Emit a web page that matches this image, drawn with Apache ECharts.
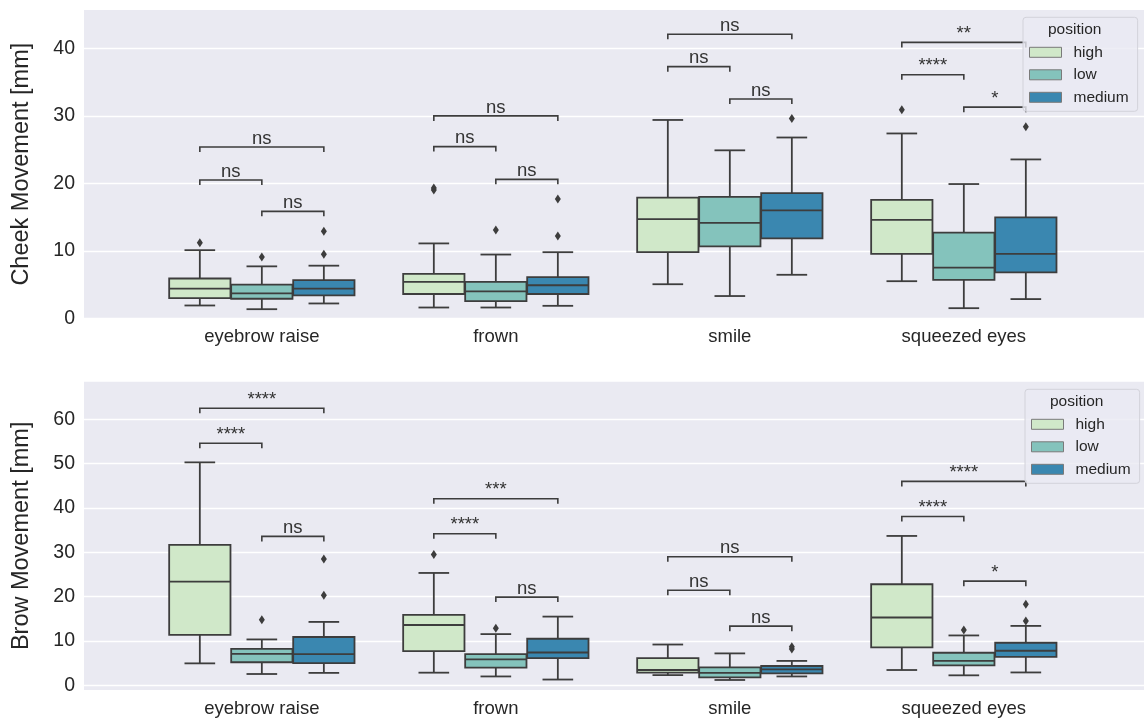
<!DOCTYPE html>
<html>
<head>
<meta charset="utf-8">
<script src="https://cdn.jsdelivr.net/npm/echarts@6/dist/echarts.min.js"></script>
<style>
html,body{margin:0;padding:0;background:#fff;}
#chart{width:1148px;height:718px;}
</style>
</head>
<body>
<div id="chart"></div>
<script>
// ---------------- data ----------------
const categories = ['eyebrow raise', 'frown', 'smile', 'squeezed eyes'];
const positions = ['high', 'low', 'medium'];

// box stats per category: [lower whisker, Q1, median, Q3, upper whisker]
const cheekHigh = [[1.9, 3.0, 4.4, 5.9, 10.1], [1.6, 3.6, 5.4, 6.6, 11.1], [5.05, 9.8, 14.7, 17.9, 29.4], [5.5, 9.55, 14.6, 17.55, 27.4]];
const cheekLow = [[1.35, 2.9, 3.7, 5.0, 7.7], [1.6, 2.55, 4.0, 5.4, 9.45], [3.3, 10.65, 14.15, 18.0, 24.9], [1.5, 5.7, 7.5, 12.7, 19.9]];
const cheekMedium = [[2.2, 3.4, 4.4, 5.65, 7.8], [1.85, 3.6, 4.9, 6.1, 9.8], [6.45, 11.85, 16.0, 18.55, 26.8], [2.85, 6.8, 9.55, 14.95, 23.55]];
// outliers: [category index, value]
const cheekOutHigh = [[0, 11.2], [1, 19.0], [1, 19.3], [3, 30.9]];
const cheekOutLow = [[0, 9.1], [1, 13.1]];
const cheekOutMedium = [[0, 12.9], [0, 9.5], [1, 17.7], [1, 12.2], [2, 29.6], [3, 28.4]];
// brackets: [category, from position, to position, height, label]
const cheekBrackets = [
  [0, 0, 1, 20.5, 'ns'], [0, 1, 2, 15.85, 'ns'], [0, 0, 2, 25.4, 'ns'],
  [1, 0, 1, 25.45, 'ns'], [1, 1, 2, 20.6, 'ns'], [1, 0, 2, 30.0, 'ns'],
  [2, 0, 1, 37.3, 'ns'], [2, 1, 2, 32.5, 'ns'], [2, 0, 2, 42.1, 'ns'],
  [3, 0, 1, 36.1, '****'], [3, 1, 2, 31.3, '*'], [3, 0, 2, 40.9, '**']
];
const cheekTicks = [0, 10, 20, 30, 40];

const browHigh = [[4.95, 11.4, 23.4, 31.7, 50.3], [2.85, 7.7, 13.6, 15.9, 25.35], [2.3, 2.85, 3.45, 6.15, 9.2], [3.45, 8.55, 15.3, 22.8, 33.7]];
const browLow = [[2.55, 5.2, 7.1, 8.2, 10.35], [2.0, 4.0, 5.85, 7.05, 11.55], [1.2, 1.8, 2.8, 4.05, 7.2], [2.25, 4.5, 5.5, 7.35, 11.25]];
const browMedium = [[2.8, 5.0, 7.05, 10.9, 14.3], [1.3, 6.15, 7.4, 10.5, 15.5], [2.0, 2.7, 3.6, 4.35, 5.5], [2.9, 6.4, 7.8, 9.6, 13.4]];
const browOutHigh = [[1, 29.5]];
const browOutLow = [[0, 14.8], [1, 12.9], [3, 12.5]];
const browOutMedium = [[0, 28.5], [0, 20.3], [2, 8.2], [2, 8.7], [3, 18.3], [3, 14.5]];
const browBrackets = [
  [0, 0, 1, 54.6, '****'], [0, 1, 2, 33.6, 'ns'], [0, 0, 2, 62.5, '****'],
  [1, 0, 1, 34.2, '****'], [1, 1, 2, 19.9, 'ns'], [1, 0, 2, 42.1, '***'],
  [2, 0, 1, 21.45, 'ns'], [2, 1, 2, 13.35, 'ns'], [2, 0, 2, 29.0, 'ns'],
  [3, 0, 1, 38.1, '****'], [3, 1, 2, 23.5, '*'], [3, 0, 2, 46.0, '****']
];
const browTicks = [0, 10, 20, 30, 40, 50, 60];

// ---------------- style ----------------
const COLORS = ['#d0e8c9', '#84c3bc', '#3a87b0'];
const OFFSETS = [-0.265, 0, 0.265];
const BOX_W = 0.262;
const LINE = '#3d3d3d';
const LW = 1.8;
const FONT = '"Liberation Sans", Arial, sans-serif';
const TXT = '#262626';

function boxRender(offset, fill) {
  return function (params, api) {
    const x = api.value(0) + offset;
    const ys = [1, 2, 3, 4, 5].map(i => api.coord([x, api.value(i)])[1]);
    const cx = api.coord([x, 0])[0];
    const half = api.size([BOX_W, 0])[0] / 2;
    const cap = half / 2;
    const [yLw, yQ1, yMed, yQ3, yHw] = ys;
    const ls = { stroke: LINE, lineWidth: LW };
    return {
      type: 'group', children: [
        { type: 'line', shape: { x1: cx, y1: yQ1, x2: cx, y2: yLw }, style: ls },
        { type: 'line', shape: { x1: cx, y1: yQ3, x2: cx, y2: yHw }, style: ls },
        { type: 'line', shape: { x1: cx - cap, y1: yLw, x2: cx + cap, y2: yLw }, style: ls },
        { type: 'line', shape: { x1: cx - cap, y1: yHw, x2: cx + cap, y2: yHw }, style: ls },
        { type: 'rect', shape: { x: cx - half, y: yQ3, width: 2 * half, height: yQ1 - yQ3 }, style: { fill: fill, stroke: LINE, lineWidth: LW } },
        { type: 'line', shape: { x1: cx - half, y1: yMed, x2: cx + half, y2: yMed }, style: ls }
      ]
    };
  };
}

function bracketRender(list) {
  return function (params, api) {
    const b = list[params.dataIndex];
    const p1 = api.coord([b[0] + OFFSETS[b[1]], b[3]]);
    const p2 = api.coord([b[0] + OFFSETS[b[2]], b[3]]);
    const y = p1[1];
    return {
      type: 'group', children: [
        { type: 'polyline', shape: { points: [[p1[0], y + 5], [p1[0], y], [p2[0], y], [p2[0], y + 5]] }, style: { stroke: LINE, lineWidth: 1.6, fill: null } },
        { type: 'text', x: (p1[0] + p2[0]) / 2, y: y + 1, style: { text: b[4], fill: '#333', font: '18.5px ' + FONT, align: 'center', verticalAlign: 'bottom' } }
      ]
    };
  };
}

function buildSeries(gi, stats, outs, brackets) {
  const s = [];
  positions.forEach((p, i) => {
    s.push({
      name: p, type: 'custom', xAxisIndex: gi, yAxisIndex: gi,
      itemStyle: { color: COLORS[i], borderColor: LINE },
      renderItem: boxRender(OFFSETS[i], COLORS[i]),
      encode: { x: 0, y: [1, 2, 3, 4, 5] },
      data: stats[i].map((d, c) => [c].concat(d)),
      z: 3
    });
  });
  positions.forEach((p, i) => {
    s.push({
      name: 'out-' + p, type: 'scatter', xAxisIndex: gi, yAxisIndex: gi,
      symbol: 'diamond', symbolSize: [6, 9],
      itemStyle: { color: LINE, opacity: 1 },
      data: outs[i].map(o => [o[0] + OFFSETS[i], o[1]]),
      z: 4
    });
  });
  s.push({
    name: 'brackets', type: 'custom', xAxisIndex: gi, yAxisIndex: gi,
    renderItem: bracketRender(brackets),
    encode: { x: 0, y: 1 },
    data: brackets.map(b => [b[0], b[3]]),
    z: 2
  });
  return s;
}

function xAxisDef(gi) {
  return {
    type: 'value', gridIndex: gi, min: -0.76, max: 3.77,
    axisLine: { show: false },
    axisTick: { show: false, customValues: [0, 1, 2, 3] },
    splitLine: { show: false },
    axisLabel: { customValues: [0, 1, 2, 3], formatter: v => categories[Math.round(v)], fontSize: 18.5, color: TXT, margin: 9, fontFamily: FONT }
  };
}

function yAxisDef(gi, min, max, ticks, name) {
  return {
    type: 'value', gridIndex: gi, min: min, max: max,
    name: name, nameLocation: 'middle', nameGap: 50,
    nameTextStyle: { fontSize: 23.5, color: TXT, fontFamily: FONT },
    axisLine: { show: false },
    axisTick: { show: false, customValues: ticks },
    axisLabel: { customValues: ticks, fontSize: 19.5, color: TXT, margin: 9, fontFamily: FONT },
    splitLine: { show: true, lineStyle: { color: '#ffffff', width: 1.3 } }
  };
}

function legendDef(left, top) {
  return {
    data: positions, left: left, top: top, orient: 'vertical',
    icon: 'rect', itemWidth: 32, itemHeight: 10, itemGap: 6.5,
    selectedMode: false,
    padding: [27, 9, 6, 6],
    backgroundColor: 'rgba(234,234,242,0.8)', borderColor: '#d2d2da', borderWidth: 1, borderRadius: 3,
    itemStyle: { borderColor: '#7a7a7a', borderWidth: 1 },
    textStyle: { fontSize: 15.5, color: TXT, fontFamily: FONT, lineHeight: 16, padding: [0, 0, 0, 7] },
    z: 10
  };
}

const chart = echarts.init(document.getElementById('chart'), null, { renderer: 'canvas' });
chart.setOption({
  animation: false,
  backgroundColor: '#ffffff',
  textStyle: { fontFamily: FONT },
  grid: [
    { left: 84, top: 10, width: 1060, height: 308.3, show: true, backgroundColor: '#eaeaf2', borderWidth: 0 },
    { left: 84, top: 381.7, width: 1060, height: 309, show: true, backgroundColor: '#eaeaf2', borderWidth: 0 }
  ],
  xAxis: [xAxisDef(0), xAxisDef(1)],
  yAxis: [
    yAxisDef(0, 0, 45.7, cheekTicks, 'Cheek Movement [mm]'),
    yAxisDef(1, -1.06, 68.5, browTicks, 'Brow Movement [mm]')
  ],
  legend: [legendDef(1023, 17.3), legendDef(1025, 389.3)],
  graphic: [
    { type: 'text', left: 1048, top: 22, z: 100, style: { text: 'position', font: '15.5px ' + FONT, fill: TXT } },
    { type: 'text', left: 1050, top: 393.5, z: 100, style: { text: 'position', font: '15.5px ' + FONT, fill: TXT } }
  ],
  series: [].concat(
    buildSeries(0, [cheekHigh, cheekLow, cheekMedium], [cheekOutHigh, cheekOutLow, cheekOutMedium], cheekBrackets),
    buildSeries(1, [browHigh, browLow, browMedium], [browOutHigh, browOutLow, browOutMedium], browBrackets)
  )
});
</script>
</body>
</html>
